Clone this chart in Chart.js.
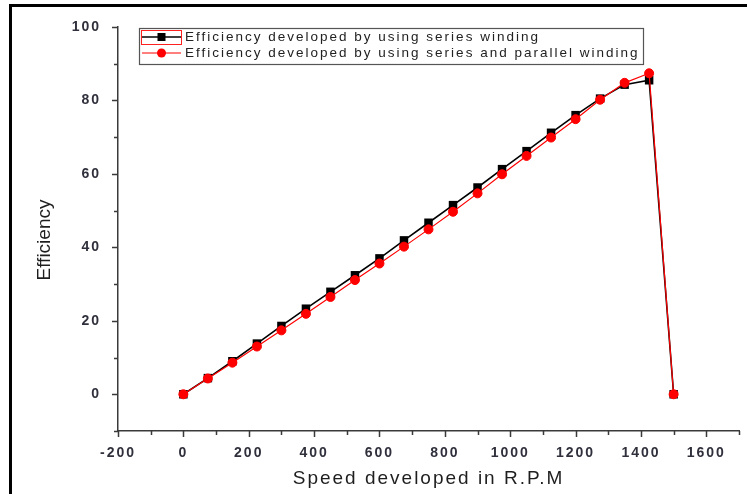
<!DOCTYPE html>
<html>
<head>
<meta charset="utf-8">
<script src="https://cdn.jsdelivr.net/npm/chart.js@4/dist/chart.umd.min.js"></script>
<style>
  html, body { margin: 0; padding: 0; background: #fff; overflow: hidden; }
  #wrap { position: relative; width: 747px; height: 494px; }
  #frame { position: absolute; left: 9px; top: 4px; width: 800px; height: 600px;
           border: 3px solid #000; box-sizing: border-box; }
  canvas { position: absolute; left: 0; top: 0; }
</style>
</head>
<body>
<div id="wrap">
  <div id="frame"></div>
  <canvas id="c" width="747" height="494"></canvas>
</div>
<script>
// Motor speed (R.P.M) at each measurement
const speedRpm = [0, 75, 150, 225, 300, 375, 450, 525, 600, 675, 750,
                  825, 900, 975, 1050, 1125, 1200, 1275, 1350, 1425, 1500];

// Efficiency with series winding only
const effSeries = [0, 4.4, 9.0, 13.8, 18.6, 23.3, 27.9, 32.4, 37.0, 41.9, 46.7,
                   51.5, 56.3, 61.3, 66.2, 71.2, 76.0, 80.5, 84.3, 85.5, 0];

// Efficiency with series and parallel winding
const effSeriesParallel = [0, 4.3, 8.6, 13.0, 17.4, 21.9, 26.5, 31.1, 35.6, 40.2, 44.9,
                           49.7, 54.7, 59.9, 64.9, 69.9, 74.9, 80.2, 84.8, 87.4, 0];

const seriesLabels = [
  'Efficiency developed by using series winding',
  'Efficiency developed by using series and parallel winding'
];

const xAxisTitle = 'Speed developed in R.P.M';
const yAxisTitle = 'Efficiency';

// Labelled (major) tick values; the remaining ticks are minor
const xMajorTicks = [-200, 0, 200, 400, 600, 800, 1000, 1200, 1400, 1600];
const yMajorTicks = [0, 20, 40, 60, 80, 100];

const FONT = '"Liberation Sans", Arial, sans-serif';
const AXIS_COLOR = '#3a3a3a';
const TICK_TEXT = '#30303c';
const TITLE_COLOR = '#1e1e1e';

const toPoints = ys => speedRpm.map((x, i) => ({ x, y: ys[i] }));

// Wider letter spacing for the horizontal chart text
const spacingPlugin = {
  id: 'spacing',
  beforeLayout(chart) { chart.ctx.letterSpacing = '2px'; },
  beforeDraw(chart) { chart.ctx.letterSpacing = '2px'; }
};

// Outward major/minor tick marks on both axes, plus the vertical axis title
const tickMarks = {
  id: 'tickMarks',
  afterDraw(chart) {
    const { ctx } = chart;
    const xs = chart.scales.x, ys = chart.scales.y;
    ctx.save();
    ctx.strokeStyle = AXIS_COLOR;
    ctx.lineWidth = 1.5;
    ctx.beginPath();
    xs.ticks.forEach(t => {
      const p = Math.round(xs.getPixelForValue(t.value)) + 0.5;
      const len = xMajorTicks.includes(t.value) ? 6 : 4;
      ctx.moveTo(p, xs.top);
      ctx.lineTo(p, xs.top + len);
    });
    ys.ticks.forEach(t => {
      const p = Math.round(ys.getPixelForValue(t.value)) + 0.5;
      const len = yMajorTicks.includes(t.value) ? 6 : 4;
      ctx.moveTo(ys.right, p);
      ctx.lineTo(ys.right - len, p);
    });
    ctx.stroke();

    // y-axis title, rotated, beside the middle of the value range
    ctx.letterSpacing = '0px';
    ctx.translate(45, ys.getPixelForValue(42));
    ctx.rotate(-Math.PI / 2);
    ctx.fillStyle = TITLE_COLOR;
    ctx.font = '19px ' + FONT;
    ctx.textAlign = 'center';
    ctx.textBaseline = 'middle';
    ctx.fillText(yAxisTitle, 0, 0);
    ctx.restore();
  }
};

// Boxed legend in the upper part of the plot
const boxLegend = {
  id: 'boxLegend',
  afterDraw(chart) {
    const { ctx } = chart;
    const bx = 139.5, by = 28.5, bw = 504, bh = 36;
    ctx.save();
    ctx.letterSpacing = '2px';
    ctx.fillStyle = '#fff';
    ctx.fillRect(bx, by, bw, bh);
    ctx.strokeStyle = '#555';
    ctx.lineWidth = 1.2;
    ctx.strokeRect(bx, by, bw, bh);

    const order = [1, 0]; // dataset indices: series first, then series+parallel
    order.forEach((di, row) => {
      const ds = chart.data.datasets[di];
      const y = 37 + row * 16;
      ctx.strokeStyle = ds.borderColor;
      ctx.lineWidth = ds.borderWidth;
      ctx.beginPath();
      ctx.moveTo(142, y);
      ctx.lineTo(181, y);
      ctx.stroke();
      ctx.fillStyle = ds.pointBackgroundColor;
      if (ds.pointStyle === 'rect') {
        ctx.fillRect(157.5, y - 4, 8, 8);
      } else {
        ctx.beginPath();
        ctx.arc(161.5, y, 4.5, 0, Math.PI * 2);
        ctx.fill();
      }
      ctx.fillStyle = '#222';
      ctx.font = '13.5px ' + FONT;
      ctx.textBaseline = 'middle';
      ctx.textAlign = 'left';
      ctx.fillText(ds.label, 185, y + 0.5);
    });
    // highlight frame around the first legend symbol
    ctx.strokeStyle = '#ff2020';
    ctx.lineWidth = 1;
    ctx.strokeRect(141.5, 30.5, 40, 14);
    ctx.restore();
  }
};

new Chart(document.getElementById('c'), {
  type: 'line',
  data: {
    datasets: [
      {
        label: seriesLabels[1],
        data: toPoints(effSeriesParallel),
        borderColor: '#ff0000',
        backgroundColor: '#ff0000',
        borderWidth: 1.2,
        pointStyle: 'circle',
        pointRadius: 4.5,
        pointBorderWidth: 1,
        pointBackgroundColor: '#ff0000',
        pointBorderColor: '#ff0000',
        tension: 0,
        order: 0
      },
      {
        label: seriesLabels[0],
        data: toPoints(effSeries),
        borderColor: '#000000',
        backgroundColor: '#000000',
        borderWidth: 1.6,
        pointStyle: 'rect',
        pointRadius: 6,
        pointBorderWidth: 0,
        pointBackgroundColor: '#000000',
        pointBorderColor: '#000000',
        tension: 0,
        order: 1
      }
    ]
  },
  options: {
    responsive: false,
    animation: false,
    devicePixelRatio: 1,
    layout: { padding: { top: 27, right: 8, left: 0, bottom: 0 } },
    plugins: { legend: { display: false }, tooltip: { enabled: false } },
    scales: {
      x: {
        type: 'linear',
        min: -200,
        max: 1700,
        afterFit(scale) { scale.height = 63; },
        border: { display: true, color: AXIS_COLOR, width: 1.5 },
        grid: { drawOnChartArea: false, drawTicks: true, tickLength: 6, tickColor: 'rgba(0,0,0,0)' },
        ticks: {
          stepSize: 100,
          autoSkip: false,
          maxRotation: 0,
          padding: 8,
          color: TICK_TEXT,
          font: { family: FONT, size: 14, weight: 'bold' },
          callback: v => xMajorTicks.includes(v) ? String(v) : ''
        },
        title: {
          display: true,
          text: xAxisTitle,
          color: TITLE_COLOR,
          font: { family: FONT, size: 19 },
          padding: { top: 0, bottom: 4 }
        }
      },
      y: {
        type: 'linear',
        min: -10,
        max: 100,
        afterFit(scale) { scale.width = 118; },
        border: { display: true, color: AXIS_COLOR, width: 1.5 },
        grid: { drawOnChartArea: false, drawTicks: true, tickLength: 6, tickColor: 'rgba(0,0,0,0)' },
        ticks: {
          stepSize: 10,
          autoSkip: false,
          padding: 11,
          color: TICK_TEXT,
          font: { family: FONT, size: 14, weight: 'bold' },
          callback: v => yMajorTicks.includes(v) ? String(v) : ''
        },
        title: { display: false }
      }
    }
  },
  plugins: [spacingPlugin, tickMarks, boxLegend]
});
</script>
</body>
</html>
